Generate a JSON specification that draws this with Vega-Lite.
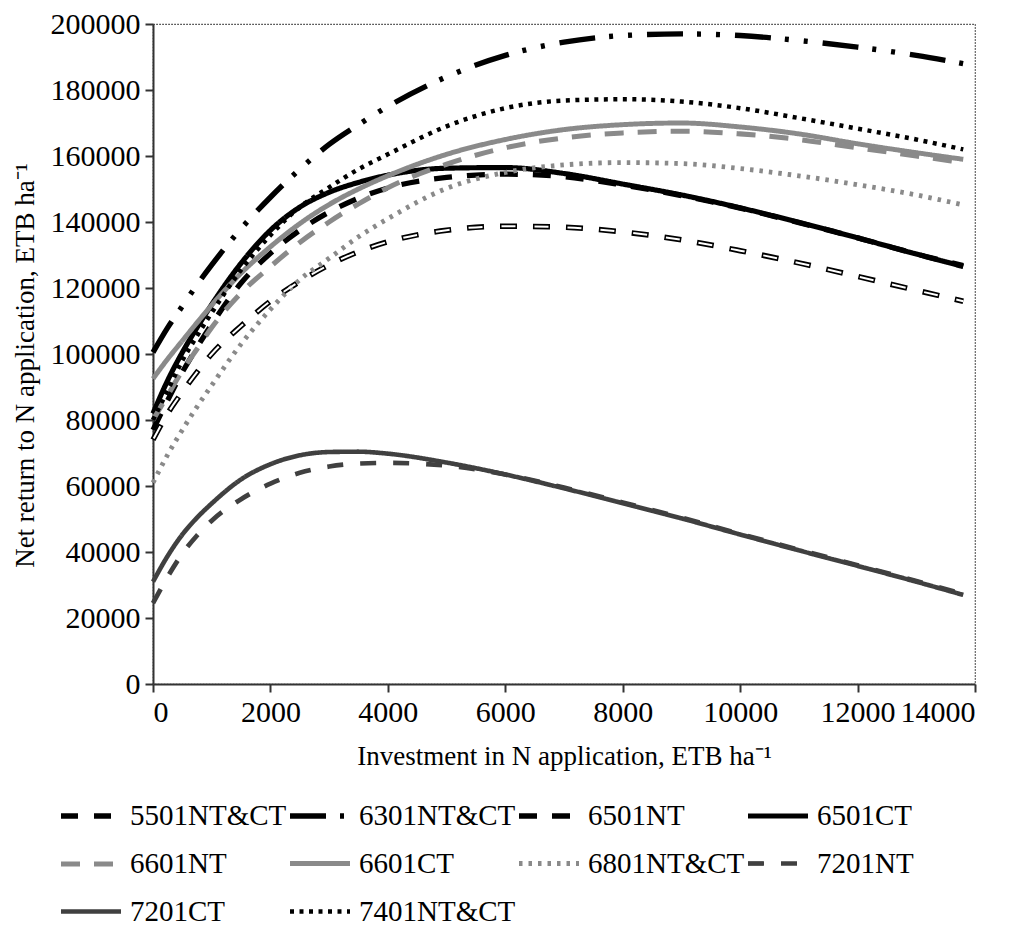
{
  "$schema": "https://vega.github.io/schema/vega-lite/v6.json",
  "width": 822,
  "height": 660,
  "autosize": {"type": "none"},
  "padding": {"left": 153, "top": 24, "right": 38, "bottom": 241},
  "background": "white",
  "config": {
    "font": "Liberation Serif",
    "view": {"stroke": "#333", "strokeDash": [1.5, 1.5], "strokeWidth": 1.2},
    "axis": {"grid": false, "domainColor": "#333", "domainWidth": 2, "tickColor": "#333", "tickWidth": 2, "tickSize": 8,
      "labelFont": "Liberation Serif", "labelFontSize": 30, "labelColor": "#000",
      "titleFont": "Liberation Serif", "titleFontSize": 27, "titleFontWeight": "normal", "titleColor": "#000"},
    "legend": {"orient": "none", "legendX": -95, "legendY": 759, "direction": "horizontal", "columns": 4,
      "symbolType": "stroke", "symbolSize": 3600, "labelFont": "Liberation Serif", "labelFontSize": 29, "labelColor": "#000",
      "labelOffset": 6, "rowPadding": -3, "columnPadding": -15, "padding": 0, "labelLimit": 400, "title": null}
  },
  "datasets": {
    "rows": [
      {"s":"6301NT&CT","x":0,"y":100500},{"s":"6301NT&CT","x":250,"y":108000},{"s":"6301NT&CT","x":500,"y":114500},{"s":"6301NT&CT","x":750,"y":121000},{"s":"6301NT&CT","x":1000,"y":127000},{"s":"6301NT&CT","x":1500,"y":138000},{"s":"6301NT&CT","x":2000,"y":147500},{"s":"6301NT&CT","x":2500,"y":156000},{"s":"6301NT&CT","x":3000,"y":163500},{"s":"6301NT&CT","x":3500,"y":169500},{"s":"6301NT&CT","x":4000,"y":175000},{"s":"6301NT&CT","x":5000,"y":184000},{"s":"6301NT&CT","x":6000,"y":190500},{"s":"6301NT&CT","x":7000,"y":194500},{"s":"6301NT&CT","x":8000,"y":196500},{"s":"6301NT&CT","x":9000,"y":197000},{"s":"6301NT&CT","x":10000,"y":196500},{"s":"6301NT&CT","x":11000,"y":195000},{"s":"6301NT&CT","x":12000,"y":193000},{"s":"6301NT&CT","x":13000,"y":190500},{"s":"6301NT&CT","x":13800,"y":188000},
      {"s":"5501NT&CT","x":0,"y":74000},{"s":"5501NT&CT","x":250,"y":82000},{"s":"5501NT&CT","x":500,"y":88500},{"s":"5501NT&CT","x":750,"y":94500},{"s":"5501NT&CT","x":1000,"y":100000},{"s":"5501NT&CT","x":1500,"y":108500},{"s":"5501NT&CT","x":2000,"y":116000},{"s":"5501NT&CT","x":2500,"y":122000},{"s":"5501NT&CT","x":3000,"y":127000},{"s":"5501NT&CT","x":3500,"y":131000},{"s":"5501NT&CT","x":4000,"y":134000},{"s":"5501NT&CT","x":5000,"y":137500},{"s":"5501NT&CT","x":6000,"y":138700},{"s":"5501NT&CT","x":7000,"y":138400},{"s":"5501NT&CT","x":8000,"y":137000},{"s":"5501NT&CT","x":9000,"y":134600},{"s":"5501NT&CT","x":10000,"y":131300},{"s":"5501NT&CT","x":11000,"y":127600},{"s":"5501NT&CT","x":12000,"y":123500},{"s":"5501NT&CT","x":13000,"y":119300},{"s":"5501NT&CT","x":13800,"y":116000},
      {"s":"6501CT","x":0,"y":82000},{"s":"6501CT","x":250,"y":92000},{"s":"6501CT","x":500,"y":100500},{"s":"6501CT","x":750,"y":108000},{"s":"6501CT","x":1000,"y":115000},{"s":"6501CT","x":1500,"y":127500},{"s":"6501CT","x":2000,"y":137500},{"s":"6501CT","x":2500,"y":144500},{"s":"6501CT","x":3000,"y":149000},{"s":"6501CT","x":3500,"y":152000},{"s":"6501CT","x":4000,"y":154200},{"s":"6501CT","x":5000,"y":156300},{"s":"6501CT","x":6000,"y":156500},{"s":"6501CT","x":7000,"y":154700},{"s":"6501CT","x":8000,"y":151500},{"s":"6501CT","x":9000,"y":148200},{"s":"6501CT","x":10000,"y":144300},{"s":"6501CT","x":11000,"y":139900},{"s":"6501CT","x":12000,"y":135200},{"s":"6501CT","x":13000,"y":130300},{"s":"6501CT","x":13800,"y":126500},
      {"s":"6501NT","x":0,"y":77000},{"s":"6501NT","x":250,"y":86000},{"s":"6501NT","x":500,"y":94500},{"s":"6501NT","x":750,"y":102000},{"s":"6501NT","x":1000,"y":109000},{"s":"6501NT","x":1500,"y":121500},{"s":"6501NT","x":2000,"y":130500},{"s":"6501NT","x":2500,"y":137500},{"s":"6501NT","x":3000,"y":143000},{"s":"6501NT","x":3500,"y":147200},{"s":"6501NT","x":4000,"y":150300},{"s":"6501NT","x":5000,"y":153500},{"s":"6501NT","x":6000,"y":154500},{"s":"6501NT","x":7000,"y":153700},{"s":"6501NT","x":8000,"y":151200},{"s":"6501NT","x":9000,"y":148000},{"s":"6501NT","x":10000,"y":144200},{"s":"6501NT","x":11000,"y":139800},{"s":"6501NT","x":12000,"y":135200},{"s":"6501NT","x":13000,"y":130300},{"s":"6501NT","x":13800,"y":126800},
      {"s":"6601CT","x":0,"y":92500},{"s":"6601CT","x":250,"y":98500},{"s":"6601CT","x":500,"y":104000},{"s":"6601CT","x":750,"y":109500},{"s":"6601CT","x":1000,"y":114800},{"s":"6601CT","x":1500,"y":124500},{"s":"6601CT","x":2000,"y":132500},{"s":"6601CT","x":2500,"y":139500},{"s":"6601CT","x":3000,"y":145300},{"s":"6601CT","x":3500,"y":150000},{"s":"6601CT","x":4000,"y":154000},{"s":"6601CT","x":5000,"y":160500},{"s":"6601CT","x":6000,"y":165000},{"s":"6601CT","x":7000,"y":168000},{"s":"6601CT","x":8000,"y":169500},{"s":"6601CT","x":9000,"y":170000},{"s":"6601CT","x":10000,"y":168800},{"s":"6601CT","x":11000,"y":166700},{"s":"6601CT","x":12000,"y":163700},{"s":"6601CT","x":13000,"y":161000},{"s":"6601CT","x":13800,"y":159000},
      {"s":"6601NT","x":0,"y":80000},{"s":"6601NT","x":250,"y":87500},{"s":"6601NT","x":500,"y":95000},{"s":"6601NT","x":750,"y":101500},{"s":"6601NT","x":1000,"y":108000},{"s":"6601NT","x":1500,"y":118500},{"s":"6601NT","x":2000,"y":126500},{"s":"6601NT","x":2500,"y":133800},{"s":"6601NT","x":3000,"y":140000},{"s":"6601NT","x":3500,"y":145500},{"s":"6601NT","x":4000,"y":150400},{"s":"6601NT","x":5000,"y":157500},{"s":"6601NT","x":6000,"y":162500},{"s":"6601NT","x":7000,"y":165500},{"s":"6601NT","x":8000,"y":167000},{"s":"6601NT","x":9000,"y":167500},{"s":"6601NT","x":10000,"y":166700},{"s":"6601NT","x":11000,"y":165000},{"s":"6601NT","x":12000,"y":162500},{"s":"6601NT","x":13000,"y":160000},{"s":"6601NT","x":13800,"y":158000},
      {"s":"6801NT&CT","x":0,"y":61000},{"s":"6801NT&CT","x":250,"y":69500},{"s":"6801NT&CT","x":500,"y":77000},{"s":"6801NT&CT","x":750,"y":84000},{"s":"6801NT&CT","x":1000,"y":90500},{"s":"6801NT&CT","x":1500,"y":103000},{"s":"6801NT&CT","x":2000,"y":113500},{"s":"6801NT&CT","x":2500,"y":122500},{"s":"6801NT&CT","x":3000,"y":129000},{"s":"6801NT&CT","x":3500,"y":135500},{"s":"6801NT&CT","x":4000,"y":141000},{"s":"6801NT&CT","x":5000,"y":150200},{"s":"6801NT&CT","x":6000,"y":155000},{"s":"6801NT&CT","x":7000,"y":157300},{"s":"6801NT&CT","x":8000,"y":158000},{"s":"6801NT&CT","x":9000,"y":157700},{"s":"6801NT&CT","x":10000,"y":156200},{"s":"6801NT&CT","x":11000,"y":154000},{"s":"6801NT&CT","x":12000,"y":151300},{"s":"6801NT&CT","x":13000,"y":148200},{"s":"6801NT&CT","x":13800,"y":145200},
      {"s":"7201CT","x":0,"y":31000},{"s":"7201CT","x":250,"y":38800},{"s":"7201CT","x":500,"y":45300},{"s":"7201CT","x":750,"y":50400},{"s":"7201CT","x":1000,"y":54700},{"s":"7201CT","x":1500,"y":62000},{"s":"7201CT","x":2000,"y":66600},{"s":"7201CT","x":2500,"y":69300},{"s":"7201CT","x":3000,"y":70300},{"s":"7201CT","x":3500,"y":70400},{"s":"7201CT","x":4000,"y":69800},{"s":"7201CT","x":5000,"y":67100},{"s":"7201CT","x":6000,"y":63500},{"s":"7201CT","x":7000,"y":59300},{"s":"7201CT","x":8000,"y":54800},{"s":"7201CT","x":9000,"y":50200},{"s":"7201CT","x":10000,"y":45300},{"s":"7201CT","x":11000,"y":40500},{"s":"7201CT","x":12000,"y":35800},{"s":"7201CT","x":13000,"y":31000},{"s":"7201CT","x":13800,"y":27000},
      {"s":"7201NT","x":0,"y":24500},{"s":"7201NT","x":250,"y":32500},{"s":"7201NT","x":500,"y":39500},{"s":"7201NT","x":750,"y":45000},{"s":"7201NT","x":1000,"y":49500},{"s":"7201NT","x":1500,"y":56000},{"s":"7201NT","x":2000,"y":60700},{"s":"7201NT","x":2500,"y":64000},{"s":"7201NT","x":3000,"y":65900},{"s":"7201NT","x":3500,"y":66800},{"s":"7201NT","x":4000,"y":67000},{"s":"7201NT","x":5000,"y":66200},{"s":"7201NT","x":6000,"y":63500},{"s":"7201NT","x":7000,"y":59500},{"s":"7201NT","x":8000,"y":55000},{"s":"7201NT","x":9000,"y":50400},{"s":"7201NT","x":10000,"y":45500},{"s":"7201NT","x":11000,"y":40700},{"s":"7201NT","x":12000,"y":36000},{"s":"7201NT","x":13000,"y":31200},{"s":"7201NT","x":13800,"y":27300},
      {"s":"7401NT&CT","x":0,"y":80000},{"s":"7401NT&CT","x":250,"y":89000},{"s":"7401NT&CT","x":500,"y":98000},{"s":"7401NT&CT","x":750,"y":105500},{"s":"7401NT&CT","x":1000,"y":112500},{"s":"7401NT&CT","x":1500,"y":125500},{"s":"7401NT&CT","x":2000,"y":136000},{"s":"7401NT&CT","x":2500,"y":144500},{"s":"7401NT&CT","x":3000,"y":150500},{"s":"7401NT&CT","x":3500,"y":156000},{"s":"7401NT&CT","x":4000,"y":160500},{"s":"7401NT&CT","x":5000,"y":169000},{"s":"7401NT&CT","x":6000,"y":174500},{"s":"7401NT&CT","x":7000,"y":176800},{"s":"7401NT&CT","x":8000,"y":177200},{"s":"7401NT&CT","x":9000,"y":176500},{"s":"7401NT&CT","x":10000,"y":174500},{"s":"7401NT&CT","x":11000,"y":171500},{"s":"7401NT&CT","x":12000,"y":168300},{"s":"7401NT&CT","x":13000,"y":165000},{"s":"7401NT&CT","x":13800,"y":162000}
    ]
  },
  "data": {"name": "rows"},
  "encoding": {
    "x": {"field": "x", "type": "quantitative", "title": "Investment in N application, ETB ha⁻¹",
      "scale": {"domain": [0, 14000], "nice": false},
      "axis": {"values": [0,2000,4000,6000,8000,10000,12000,14000], "format": "d", "labelPadding": 5, "titlePadding": 16}},
    "y": {"field": "y", "type": "quantitative", "title": "Net return to N application, ETB ha⁻¹",
      "scale": {"domain": [0, 200000], "nice": false},
      "axis": {"values": [0,20000,40000,60000,80000,100000,120000,140000,160000,180000,200000], "format": "d", "labelPadding": 5, "titleX": -114, "titleY": 341}}
  },
  "layer": [
    {
      "mark": {"type": "line", "interpolate": "monotone", "strokeCap": "butt", "strokeJoin": "round"},
      "encoding": {
        "color": {"field": "s", "type": "nominal",
          "scale": {"domain": ["5501NT&CT","6301NT&CT","6501NT","6501CT","6601NT","6601CT","6801NT&CT","7201NT","7201CT","7401NT&CT"],
                    "range": ["#000000","#000000","#000000","#000000","#8a8a8a","#8a8a8a","#8a8a8a","#404040","#404040","#000000"]}},
        "strokeDash": {"field": "s", "type": "nominal",
          "scale": {"domain": ["5501NT&CT","6301NT&CT","6501NT","6501CT","6601NT","6601CT","6801NT&CT","7201NT","7201CT","7401NT&CT"],
                    "range": [[17,16],[36,14,4,15,4,15],[18,15],[1,0],[19,14],[1,0],[3.5,6],[16,17],[1,0],[4,5.5]]}},
        "strokeWidth": {"field": "s", "type": "nominal",
          "scale": {"domain": ["5501NT&CT","6301NT&CT","6501NT","6501CT","6601NT","6601CT","6801NT&CT","7201NT","7201CT","7401NT&CT"],
                    "range": [5.5,4.5,5,3,5,4,4,5,4,4.5]}}
      }
    },
    {
      "transform": [{"filter": "datum.s === '5501NT&CT'"}],
      "mark": {"type": "line", "interpolate": "monotone", "strokeCap": "butt", "color": "#ffffff", "strokeWidth": 2, "strokeDash": [14, 19], "strokeDashOffset": 31.5}
    }
  ]
}
